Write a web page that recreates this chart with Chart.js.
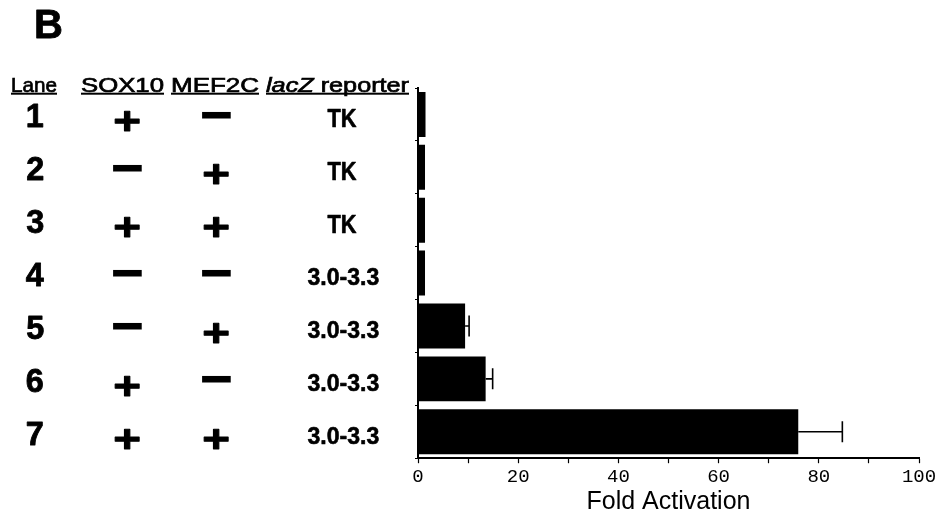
<!DOCTYPE html>
<html>
<head>
<meta charset="utf-8">
<script src="https://cdn.jsdelivr.net/npm/chart.js@4/dist/chart.umd.min.js"></script>
<style>
html,body{margin:0;padding:0;background:#fff;}
#wrap{width:941px;height:519px;position:relative;}
</style>
</head>
<body>
<div id="wrap"><canvas id="c" width="941" height="519"></canvas></div>
<script>
// Data
const lanes = ['1','2','3','4','5','6','7'];
const sox10 = ['+','-','+','-','-','+','+'];
const mef2c = ['-','+','+','-','+','-','+'];
const reporter = ['TK','TK','TK','3.0-3.3','3.0-3.3','3.0-3.3','3.0-3.3'];
const foldActivation = [1.5, 1.4, 1.4, 1.4, 9.4, 13.5, 75.9];
const errorValues = [0, 0, 0, 0, 0.8, 1.4, 8.8];
const xTickValues = [0, 20, 40, 60, 80, 100];
const panelLabel = 'B';
const headers = ['Lane', 'SOX10', 'MEF2C', 'reporter'];

const SANS = '"Liberation Sans", Arial, sans-serif';

function drawFit(ctx, text, font, cx, cy, tw, th, stroke) {
  ctx.font = font;
  const m = ctx.measureText(text);
  const w = m.actualBoundingBoxLeft + m.actualBoundingBoxRight;
  const h = m.actualBoundingBoxAscent + m.actualBoundingBoxDescent;
  const sy = th ? th / h : tw / w;
  const sx = tw ? tw / w : sy;
  ctx.save();
  ctx.translate(cx, cy);
  ctx.scale(sx, sy);
  ctx.textAlign = 'left';
  ctx.textBaseline = 'alphabetic';
  const px = -(m.actualBoundingBoxRight - m.actualBoundingBoxLeft) / 2;
  const py = (m.actualBoundingBoxAscent - m.actualBoundingBoxDescent) / 2;
  ctx.fillText(text, px, py);
  if (stroke) { ctx.lineWidth = stroke / Math.max(sx, sy); ctx.lineJoin = 'round'; ctx.strokeText(text, px, py); }
  ctx.restore();
}

const tablePlugin = {
  id: 'table',
  afterDraw(chart) {
    const ctx = chart.ctx;
    const y = chart.scales.y;
    ctx.save();
    ctx.fillStyle = '#000';
    ctx.strokeStyle = '#000';
    // panel label
    drawFit(ctx, panelLabel, 'bold 40px ' + SANS, 49, 24, 26, 28, 0.8);

    // headers (left x, right x)
    const hy = 91.5;
    const norm = '21px ' + SANS;
    const ital = 'italic 21px ' + SANS;
    const header = (parts, x0, x1) => {
      let total = 0;
      const ws = parts.map(p => { ctx.font = p[1]; const w = ctx.measureText(p[0]).width; total += w; return w; });
      const sx = (x1 - x0) / total;
      ctx.save();
      ctx.translate(x0, hy);
      ctx.scale(sx, 1);
      ctx.textAlign = 'left';
      ctx.textBaseline = 'alphabetic';
      ctx.lineWidth = 0.7;
      let x = 0;
      parts.forEach((p, k) => { ctx.font = p[1]; ctx.fillText(p[0], x, 0); ctx.strokeText(p[0], x, 0); x += ws[k]; });
      ctx.restore();
      ctx.fillRect(x0, hy + 1.2, x1 - x0, 2);
    };
    header([[headers[0], norm]], 11, 57);
    header([[headers[1], norm]], 81, 164);
    header([[headers[2], norm]], 171, 259);
    header([['lacZ', ital], [' ' + headers[3], norm]], 266, 409);

    for (let i = 0; i < lanes.length; i++) {
      const cy = y.getPixelForValue(i);
      drawFit(ctx, lanes[i], 'bold 28px ' + SANS, 35, cy + 2, null, 22, 0.8);
      [[sox10[i], 127], [mef2c[i], 216]].forEach(([s, cx]) => {
        if (s === '+') drawFit(ctx, '+', 'bold 40px ' + SANS, cx, cy + 7, 25, 20, 1.2);
        else drawFit(ctx, '\u2212', 'bold 40px ' + SANS, cx, cy, 30, 7.5);
      });
      if (reporter[i] === 'TK') drawFit(ctx, reporter[i], 'bold 25px ' + SANS, 342, cy + 4, 29, 18, 0.6);
      else drawFit(ctx, reporter[i], 'bold 21px ' + SANS, 343, cy + 4, 71, 16, 0.6);
    }
    ctx.restore();
  }
};

const errorPlugin = {
  id: 'errbars',
  afterDatasetsDraw(chart) {
    const ctx = chart.ctx;
    const xs = chart.scales.x, ys = chart.scales.y;
    ctx.save();
    ctx.strokeStyle = '#000';
    ctx.lineWidth = 1.6;
    for (let i = 0; i < foldActivation.length; i++) {
      if (!errorValues[i]) continue;
      const x0 = xs.getPixelForValue(foldActivation[i]);
      const x1 = xs.getPixelForValue(foldActivation[i] + errorValues[i]);
      const cy = ys.getPixelForValue(i);
      ctx.beginPath();
      ctx.moveTo(x0, cy); ctx.lineTo(x1, cy);
      ctx.moveTo(x1, cy - 10.5); ctx.lineTo(x1, cy + 10.5);
      ctx.stroke();
    }
    ctx.restore();
  }
};

new Chart(document.getElementById('c'), {
  type: 'bar',
  data: {
    labels: lanes,
    datasets: [{
      data: foldActivation,
      backgroundColor: '#000',
      borderWidth: 0,
      barPercentage: 0.85,
      categoryPercentage: 1.0
    }]
  },
  options: {
    indexAxis: 'y',
    responsive: false,
    animation: false,
    devicePixelRatio: 1,
    layout: { padding: { left: 415, right: 22, top: 88, bottom: 4 } },
    plugins: { legend: { display: false }, tooltip: { enabled: false }, title: { display: false } },
    scales: {
      x: {
        min: 0, max: 100,
        ticks: {
          stepSize: 10,
          autoSkip: false,
          maxRotation: 0,
          color: '#000',
          padding: 2,
          font: { family: '"Liberation Mono", "Courier New", monospace', size: 19 },
          callback: (v) => xTickValues.includes(v) ? String(v) : ''
        },
        grid: { display: true, drawOnChartArea: false, color: '#000', tickLength: 5, tickWidth: 1.2 },
        border: { display: true, color: '#000', width: 2 },
        title: {
          display: true, text: 'Fold Activation', color: '#000',
          font: { family: SANS, size: 25, lineHeight: 1.0 },
          padding: { top: 0, bottom: 0 }
        }
      },
      y: {
        type: 'category',
        offset: true,
        ticks: { display: false },
        grid: { display: true, offset: true, drawOnChartArea: false, color: '#000', tickLength: 3 },
        border: { display: true, color: '#000', width: 2 }
      }
    }
  },
  plugins: [errorPlugin, tablePlugin]
});
</script>
</body>
</html>
